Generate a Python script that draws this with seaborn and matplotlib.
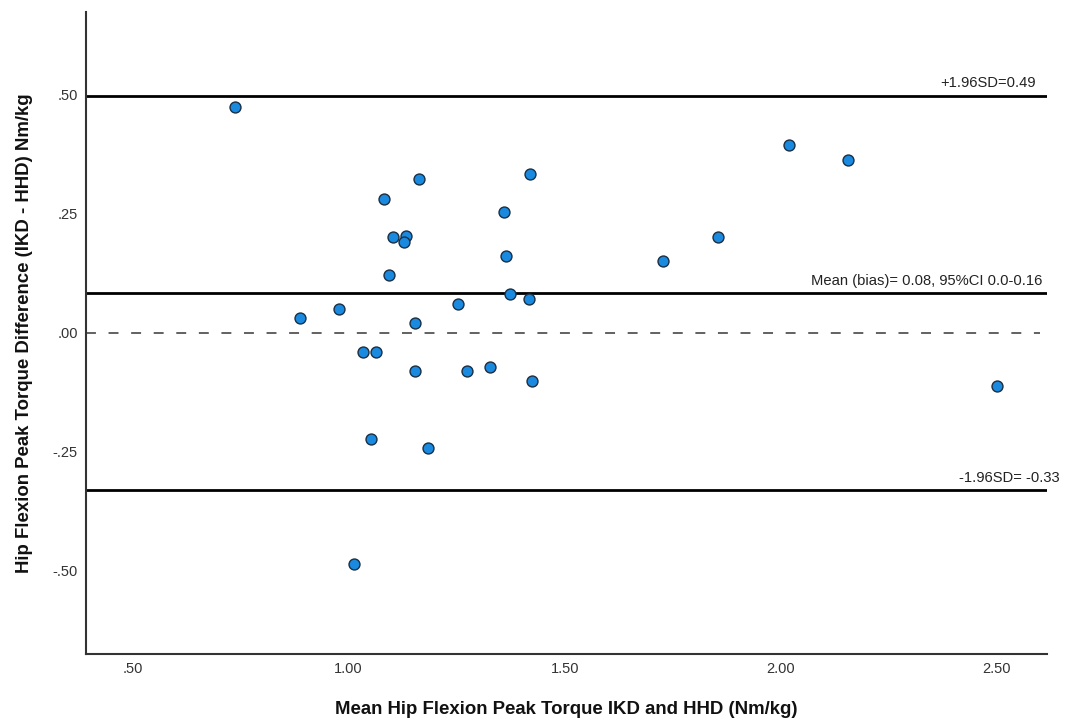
import matplotlib
matplotlib.use("Agg")
import matplotlib.pyplot as plt
import seaborn as sns
import pandas as pd
from matplotlib.ticker import FuncFormatter

# ==================== DATA ====================
mean_torque = [0.737, 1.163, 1.419, 1.082, 1.359, 1.103, 1.133, 1.128, 1.364, 1.093,
               1.373, 1.418, 1.254, 0.978, 0.887, 1.153, 1.032, 1.063, 1.153, 1.274,
               1.328, 1.424, 1.052, 1.183, 1.012, 2.020, 2.155, 1.854, 1.728, 2.501]
diff_torque = [0.475, 0.323, 0.333, 0.282, 0.253, 0.202, 0.203, 0.191, 0.161, 0.121,
               0.081, 0.071, 0.060, 0.050, 0.030, 0.020, -0.041, -0.041, -0.080, -0.080,
               -0.071, -0.101, -0.223, -0.243, -0.486, 0.394, 0.364, 0.202, 0.151, -0.112]

bias = 0.083
upper_loa = 0.497
lower_loa = -0.331
upper_text = "+1.96SD=0.49"
bias_text = "Mean (bias)= 0.08, 95%CI 0.0-0.16"
lower_text = "-1.96SD= -0.33"

x_ticks = [0.5, 1.0, 1.5, 2.0, 2.5]
y_ticks = [-0.5, -0.25, 0.0, 0.25, 0.5]

df = pd.DataFrame({"mean": mean_torque, "diff": diff_torque})

# ==================== STYLE ====================
sns.set_style("white")
plt.rcParams["font.family"] = ["Liberation Sans", "DejaVu Sans"]

fig = plt.figure(figsize=(10.76, 7.21), dpi=100)
ax = fig.add_axes([0.0799, 0.0929, 0.8931, 0.8905])

# reference lines
ax.axhline(upper_loa, color="black", lw=2.0, zorder=1)
ax.axhline(bias, color="black", lw=2.0, zorder=1)
ax.axhline(lower_loa, color="black", lw=2.0, zorder=1)
ax.axhline(0, color="#555555", lw=1.3, ls=(0, (5.5, 7)), xmax=0.993, zorder=1)

sns.scatterplot(data=df, x="mean", y="diff", ax=ax, s=62,
                color="#1a8ae0", edgecolor="#1c2e40", linewidth=1.0, zorder=3)

ax.text(2.59, upper_loa + 0.012, upper_text, ha="right", va="bottom",
        fontsize=10.6, color="#222222")
ax.text(2.605, bias + 0.012, bias_text, ha="right", va="bottom",
        fontsize=10.6, color="#222222")
ax.text(2.645, lower_loa + 0.012, lower_text, ha="right", va="bottom",
        fontsize=10.6, color="#222222", clip_on=False)

ax.set_xlim(0.392, 2.616)
ax.set_ylim(-0.675, 0.674)
ax.set_xticks(x_ticks)
ax.set_yticks(y_ticks)

def spss_fmt(v, pos):
    s = f"{v:.2f}"
    if s.startswith("0."):
        s = s[1:]
    elif s.startswith("-0."):
        s = "-" + s[2:]
    return s

ax.xaxis.set_major_formatter(FuncFormatter(spss_fmt))
ax.yaxis.set_major_formatter(FuncFormatter(spss_fmt))
ax.tick_params(axis="both", length=0, labelsize=10.5, colors="#333333", pad=6)

for side in ["top", "right"]:
    ax.spines[side].set_visible(False)
for side in ["left", "bottom"]:
    ax.spines[side].set_color("#333333")
    ax.spines[side].set_linewidth(1.5)

ax.set_xlabel("Mean Hip Flexion Peak Torque IKD and HHD (Nm/kg)",
              fontsize=13.4, fontweight="bold", labelpad=18, color="#111111")
ax.set_ylabel("Hip Flexion Peak Torque Difference (IKD - HHD) Nm/kg",
              fontsize=13.4, fontweight="bold", labelpad=14, color="#111111")

plt.savefig("out.png", dpi=100)
